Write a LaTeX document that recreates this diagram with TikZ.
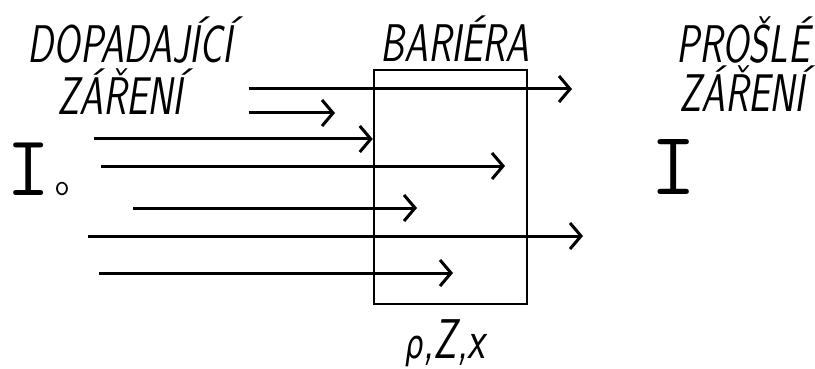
\documentclass[tikz,border=0pt]{standalone}
\usepackage{fontspec}
\newfontfamily\greekfont{DejaVu Sans}
\usetikzlibrary{arrows.meta}
\tikzset{
  ray/.style={line width=3pt, -{Straight Barb[length=11pt,width=26pt,line width=3pt]}},
  caption/.style={font=\sffamily\slshape\fontsize{53}{53}\selectfont, xscale=0.72, inner sep=0pt, anchor=base},
  intens/.style={font=\ttfamily\fontsize{80}{80}\selectfont, inner sep=0pt, anchor=base}
}
\begin{document}
\begin{tikzpicture}[x=1pt,y=-1pt]
  \useasboundingbox (0,0) rectangle (815,369);
  % barrier
  \node[draw, line width=2.5pt, minimum width=153pt, minimum height=234pt, inner sep=0pt] (bar) at (450.5,187) {};
  % rays
  \foreach \ry/\xa/\xb [count=\i] in {89/249/572, 113/249/335, 166/101/505, 208/133/417, 236/88/583, 273/99/453} {
    \coordinate (s\i) at (\xa,\ry);
    \coordinate (e\i) at (\xb,\ry);
    \draw[ray] (s\i) -- (e\i);
  }
  \coordinate (s7) at (94,139);
  \draw[ray] (s7) -- (s7 -| bar.west);
  % labels
  \node[caption] (incA) at (130,63) {DOPADAJÍCÍ};
  \node[caption] (incB) at (120,115) {ZÁŘENÍ};
  \node[caption] (barlbl) at (455,62) {BARIÉRA};
  \node[caption] (outA) at (743,63) {PROŠLÉ};
  \node[caption] (outB) at (742,112) {ZÁŘENÍ};
  \node[caption, font=\sffamily\slshape\fontsize{56}{56}\selectfont] (param) at (445,358) {{\greekfont\fontsize{40}{40}\selectfont ρ},Z,x};
  \node[intens, font=\ttfamily\fontsize{86}{86}\selectfont] (I0) at (38,195) {I\kern4pt{\fontsize{30}{30}\selectfont o}};
  \node[intens, font=\ttfamily\fontsize{90}{90}\selectfont] (I) at (674,194) {I};
\end{tikzpicture}
\end{document}
